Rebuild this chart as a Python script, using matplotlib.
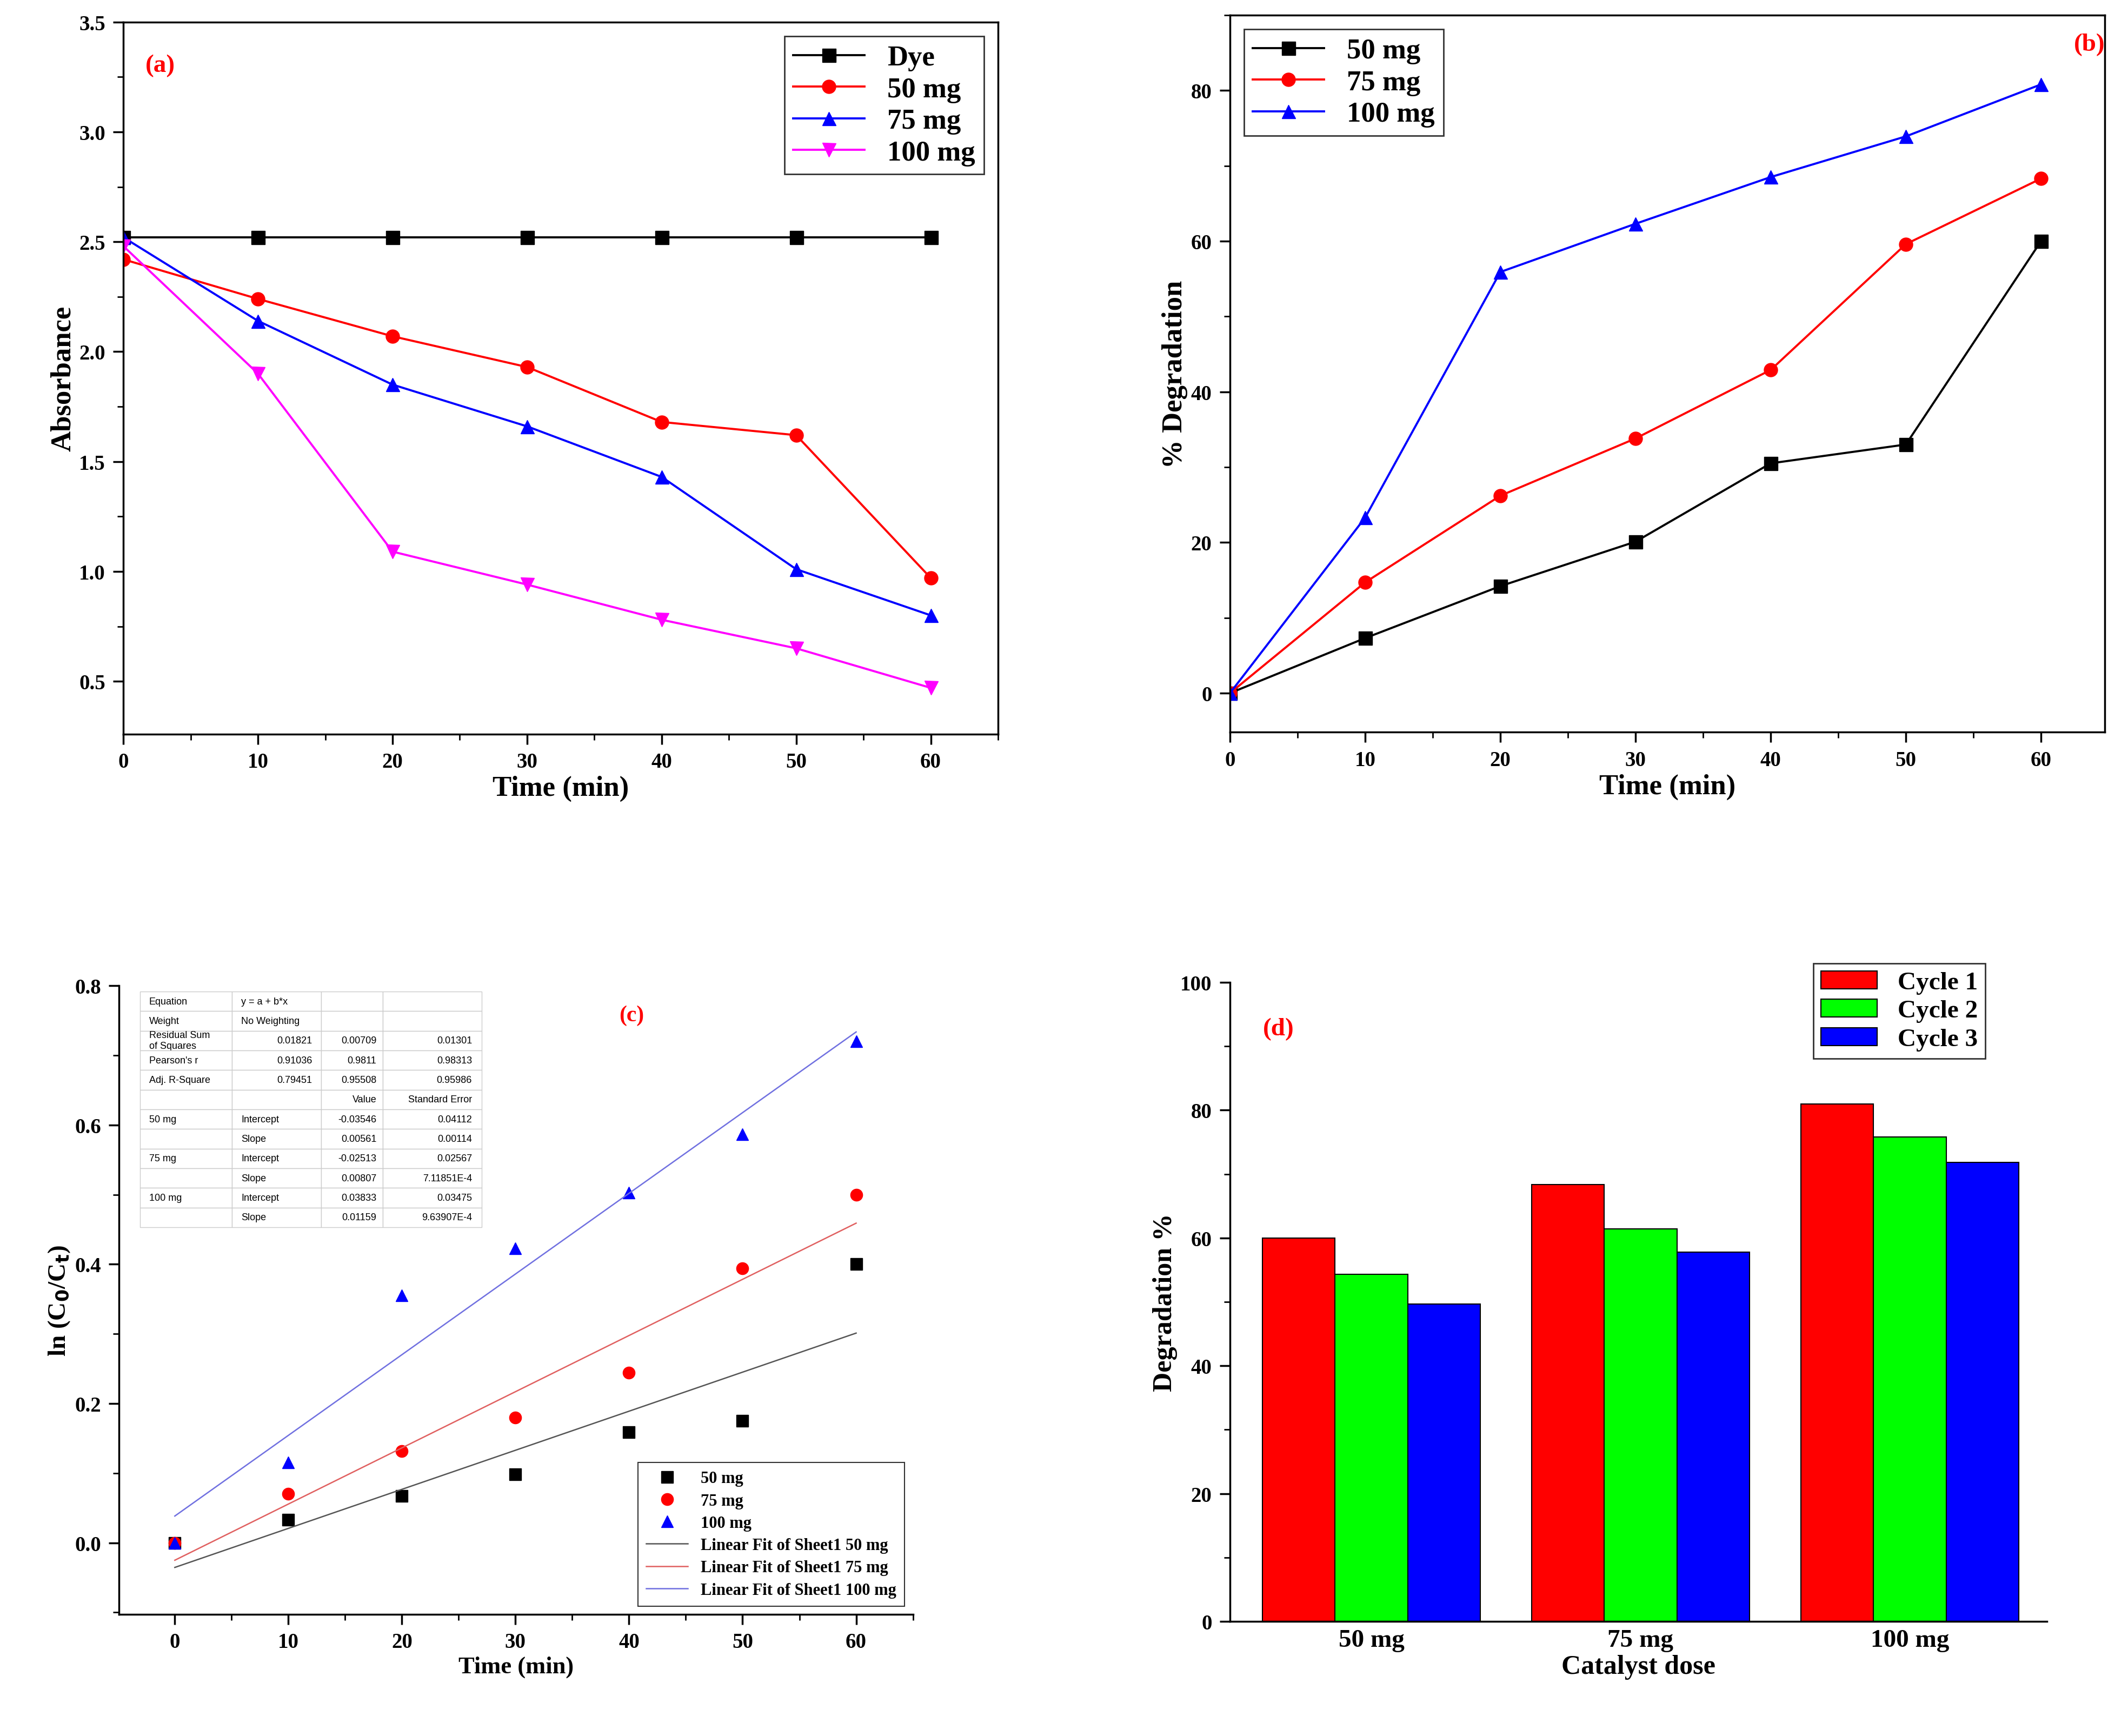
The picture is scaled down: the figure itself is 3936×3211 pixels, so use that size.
import matplotlib
matplotlib.use("Agg")
import matplotlib.pyplot as plt
import numpy as np
from matplotlib.ticker import AutoMinorLocator

plt.rcParams["font.family"] = "Liberation Serif"
plt.rcParams["font.weight"] = "bold"

time = [0, 10, 20, 30, 40, 50, 60]
abs_dye = [2.52, 2.52, 2.52, 2.52, 2.52, 2.52, 2.52]
abs_50 = [2.42, 2.24, 2.07, 1.93, 1.68, 1.62, 0.97]
abs_75 = [2.52, 2.14, 1.85, 1.66, 1.43, 1.01, 0.80]
abs_100 = [2.48, 1.90, 1.09, 0.94, 0.78, 0.65, 0.47]

deg_50 = [0, 7.3, 14.2, 20.1, 30.5, 33.0, 60.0]
deg_75 = [0, 14.7, 26.2, 33.8, 42.9, 59.6, 68.3]
deg_100 = [0, 23.3, 55.9, 62.3, 68.5, 73.9, 80.8]

ln_50 = [0, 0.033, 0.067, 0.098, 0.159, 0.175, 0.400]
ln_75 = [0, 0.070, 0.132, 0.180, 0.244, 0.394, 0.500]
ln_100 = [0, 0.115, 0.355, 0.423, 0.503, 0.587, 0.720]
fit_intercepts = [-0.03546, -0.02513, 0.03833]
fit_slopes = [0.00561, 0.00807, 0.01159]

doses = ["50 mg", "75 mg", "100 mg"]
cycle1 = [60.0, 68.4, 81.0]
cycle2 = [54.3, 61.4, 75.8]
cycle3 = [49.7, 57.8, 71.8]

TICK = 28
LAB = 38
LW = 2.8
MS = 18

fig = plt.figure(figsize=(39.36, 32.12), dpi=100)

def style(ax, full=True):
    ax.tick_params(direction="out", labelsize=TICK, length=14, width=2.5, pad=10)
    ax.tick_params(which="minor", direction="out", length=8, width=2)
    ax.xaxis.set_minor_locator(AutoMinorLocator(2))
    ax.yaxis.set_minor_locator(AutoMinorLocator(2))
    for s in ax.spines.values():
        s.set_linewidth(2.5)
    if not full:
        ax.spines["top"].set_visible(False)
        ax.spines["right"].set_visible(False)
    for t in ax.get_xticklabels() + ax.get_yticklabels():
        t.set_fontweight("bold")

# (a)
ax = fig.add_axes([0.058, 0.577, 0.411, 0.410])
ax.plot(time, abs_dye, "-s", color="black", lw=LW, ms=MS, label="Dye")
ax.plot(time, abs_50, "-o", color="#ff0000", lw=LW, ms=MS, label="50 mg")
ax.plot(time, abs_75, "-^", color="#0000ff", lw=LW, ms=MS, label="75 mg")
ax.plot(time, abs_100, "-v", color="#ff00ff", lw=LW, ms=MS, label="100 mg")
ax.set_xlim(0, 65); ax.set_ylim(0.26, 3.5)
ax.set_xticks(time); ax.set_yticks(np.arange(0.5, 3.51, 0.5))
ax.set_xlabel("Time (min)", fontsize=LAB, fontweight="bold")
ax.set_ylabel("Absorbance", fontsize=LAB, fontweight="bold")
style(ax)
ax.text(0.025, 0.955, "(a)", transform=ax.transAxes, color="red", fontsize=34, fontweight="bold", va="top")
leg = ax.legend(loc="upper right", fontsize=38, frameon=True, fancybox=False, edgecolor="black", handlelength=2.5, borderpad=0.3, labelspacing=0.2)
leg.get_frame().set_linewidth(2)

# (b)
ax = fig.add_axes([0.578, 0.578, 0.411, 0.413])
ax.plot(time, deg_50, "-s", color="black", lw=LW, ms=MS, label="50 mg")
ax.plot(time, deg_75, "-o", color="#ff0000", lw=LW, ms=MS, label="75 mg")
ax.plot(time, deg_100, "-^", color="#0000ff", lw=LW, ms=MS, label="100 mg")
ax.set_xlim(0, 64.7); ax.set_ylim(-5.2, 90)
ax.set_xticks(time); ax.set_yticks([0, 20, 40, 60, 80])
ax.set_xlabel("Time (min)", fontsize=LAB, fontweight="bold")
ax.set_ylabel("% Degradation", fontsize=LAB, fontweight="bold")
style(ax)
ax.text(0.965, 0.975, "(b)", transform=ax.transAxes, color="red", fontsize=34, fontweight="bold", va="top")
leg = ax.legend(loc="upper left", fontsize=38, frameon=True, fancybox=False, edgecolor="black", handlelength=2.5, borderpad=0.3, labelspacing=0.2)
leg.get_frame().set_linewidth(2)

# (c)
ax = fig.add_axes([0.056, 0.070, 0.373, 0.362])
xf = np.array([0, 60])
ax.plot(time, ln_50, "s", color="black", ms=MS - 2, label="50 mg")
ax.plot(time, ln_75, "o", color="#ff0000", ms=MS - 2, label="75 mg")
ax.plot(time, ln_100, "^", color="#0000ff", ms=MS - 2, label="100 mg")
names = ["Linear Fit of Sheet1 50 mg", "Linear Fit of Sheet1 75 mg", "Linear Fit of Sheet1 100 mg"]
fcols = ["#555555", "#e06060", "#7070e0"]
for a, b, n, c in zip(fit_intercepts, fit_slopes, names, fcols):
    ax.plot(xf, a + b * xf, "-", color=c, lw=1.8, label=n)
ax.set_xlim(-4.9, 65); ax.set_ylim(-0.103, 0.8)
ax.set_xticks(time); ax.set_yticks([0, 0.2, 0.4, 0.6, 0.8])
ax.set_xlabel("Time (min)", fontsize=32, fontweight="bold")
ax.set_ylabel("ln (C$_\\mathbf{0}$/C$_\\mathbf{t}$)", fontsize=34, fontweight="bold")
style(ax, full=False)
ax.text(0.63, 0.97, "(c)", transform=ax.transAxes, color="red", fontsize=30, fontweight="bold", va="top")
leg = ax.legend(loc="lower right", fontsize=22, frameon=True, fancybox=False, edgecolor="black", borderpad=0.5, labelspacing=0.4, handlelength=2.5)
leg.get_frame().set_linewidth(1.5)
rows = [
    ["Equation", "y = a + b*x", "", ""],
    ["Weight", "No Weighting", "", ""],
    ["Residual Sum\nof Squares", "0.01821", "0.00709", "0.01301"],
    ["Pearson's r", "0.91036", "0.9811", "0.98313"],
    ["Adj. R-Square", "0.79451", "0.95508", "0.95986"],
    ["", "", "Value", "Standard Error"],
    ["50 mg", "Intercept", "-0.03546", "0.04112"],
    ["", "Slope", "0.00561", "0.00114"],
    ["75 mg", "Intercept", "-0.02513", "0.02567"],
    ["", "Slope", "0.00807", "7.11851E-4"],
    ["100 mg", "Intercept", "0.03833", "0.03475"],
    ["", "Slope", "0.01159", "9.63907E-4"],
]
tb = ax.table(cellText=rows, bbox=[0.026, 0.616, 0.431, 0.375], cellLoc="right", colWidths=[0.27, 0.26, 0.18, 0.29])
tb.auto_set_font_size(False)
tb.set_fontsize(13)
for (r, c), cell in tb.get_celld().items():
    cell.set_edgecolor("#cccccc")
    cell.set_linewidth(1)
    cell.get_text().set_fontfamily("Liberation Sans")
    cell.get_text().set_fontweight("normal")
    if c == 0 or (c == 1 and r in (0, 1) or (c == 1 and r >= 6)):
        cell.get_text().set_ha("left")
        cell._loc = "left"

# (d)
ax = fig.add_axes([0.578, 0.066, 0.384, 0.368])
x = np.arange(len(doses))
w = 0.27
kw = dict(edgecolor="black", linewidth=1.5, width=w)
ax.bar(x - w, cycle1, color="#ff0000", label="Cycle 1", **kw)
ax.bar(x, cycle2, color="#00ff00", label="Cycle 2", **kw)
ax.bar(x + w, cycle3, color="#0000ff", label="Cycle 3", **kw)
ax.set_xlim(-0.525, 2.51); ax.set_ylim(0, 100)
ax.set_xticks(x); ax.set_xticklabels(doses)
ax.set_yticks([0, 20, 40, 60, 80, 100])
ax.set_xlabel("Catalyst dose", fontsize=36, fontweight="bold")
ax.set_ylabel("Degradation %", fontsize=36, fontweight="bold")
style(ax, full=False)
ax.xaxis.set_minor_locator(plt.NullLocator())
ax.tick_params(axis="x", labelsize=34, length=0)
ax.text(0.04, 0.945, "(d)", transform=ax.transAxes, color="red", fontsize=34, fontweight="bold", va="top")
leg = ax.legend(loc="upper right", bbox_to_anchor=(0.94, 1.05), fontsize=34, frameon=True, fancybox=False, edgecolor="black", borderpad=0.3, labelspacing=0.2, handlelength=2.2)
leg.get_frame().set_linewidth(2)

fig.savefig("out.png", dpi=100)
